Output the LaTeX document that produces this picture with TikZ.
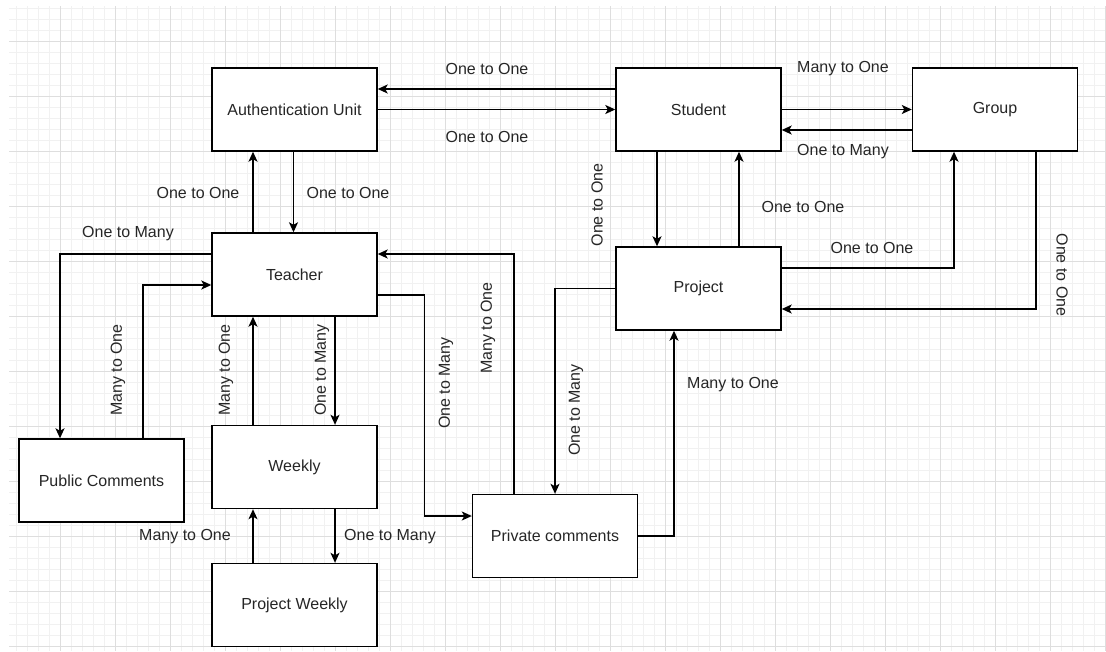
\documentclass[tikz,border=0pt]{standalone}
\usepackage{fontspec}
\setmainfont{Liberation Sans}
\usetikzlibrary{arrows.meta}
\definecolor{gridmajor}{HTML}{DEDEDE}
\definecolor{gridminor}{HTML}{F1F1F1}
\definecolor{txt}{HTML}{262626}
\tikzset{
  ent/.style={draw=black, fill=white, line width=1.4pt, minimum width=165pt, minimum height=83pt, inner sep=0pt, text=txt, font=\fontsize{16}{19}\selectfont},
  rel/.style={text=txt, inner sep=0pt, font=\fontsize{16}{19}\selectfont},
  conn/.style={draw=black, line width=1.5pt, -{Stealth[length=10pt,width=9pt,inset=2.5pt]}},
}
\begin{document}
\begin{tikzpicture}[x=1pt,y=-1pt]
\useasboundingbox (0,0) rectangle (1106,651);
\fill[white] (0,0) rectangle (1106,651);
% grid
\foreach \i in {0,...,99} {
  \pgfmathsetmacro{\gx}{16+11*\i}
  \ifdim \gx pt<1106pt \draw[gridminor, line width=0.8pt] (\gx,6) -- (\gx,651); \fi
}
\foreach \i in {0,...,58} {
  \pgfmathsetmacro{\gy}{8+11*\i}
  \ifdim \gy pt<651pt \draw[gridminor, line width=0.8pt] (9,\gy) -- (1106,\gy); \fi
}
\foreach \gx in {60,115,...,1105} { \draw[gridmajor, line width=1pt] (\gx,6) -- (\gx,651); }
\foreach \gy in {41,96,...,650} { \draw[gridmajor, line width=1pt] (9,\gy) -- (1106,\gy); }

% entities
\node[ent] (auth) at (294.5,109.5) {Authentication Unit};
\node[ent] (student) at (698.5,109.5) {Student};
\node[ent] (group) at (995,109.5) {Group};
\node[ent] (teacher) at (294.5,274.5) {Teacher};
\node[ent] (project) at (698.5,288.5) {Project};
\node[ent] (public) at (101.5,480.5) {Public Comments};
\node[ent] (weekly) at (294.5,467) {Weekly};
\node[ent] (pweekly) at (294.5,605) {Project Weekly};
\node[ent] (private) at (555,536) {Private comments};

% connectors
\draw[conn] ([yshift=20.5pt]student.west) -- ([yshift=20.5pt]auth.east);
\draw[conn] (auth.east) -- (student.west);
\draw[conn] (student.east) -- (group.west);
\draw[conn] ([yshift=-20.5pt]group.west) -- ([yshift=-20.5pt]student.east);
\draw[conn] ([xshift=-41.5pt]teacher.north) -- ([xshift=-41.5pt]auth.south);
\draw[conn] ([xshift=-1pt]auth.south) -- ([xshift=-1pt]teacher.north);
\draw[conn] ([xshift=-41.5pt]student.south) -- ([xshift=-41.5pt]project.north);
\draw[conn] ([xshift=40.5pt]project.north) -- ([xshift=40.5pt]student.south);
\draw[conn] ([yshift=20.5pt]project.east) -| ([xshift=-41pt]group.south);
\draw[conn] ([xshift=41pt]group.south) |- ([yshift=-20.5pt]project.east);
\draw[conn] ([yshift=20.5pt]teacher.west) -| ([xshift=-41.5pt]public.north);
\draw[conn] ([xshift=41.5pt]public.north) |- ([yshift=-10.5pt]teacher.west);
\draw[conn] ([xshift=-41.5pt]weekly.north) -- ([xshift=-41.5pt]teacher.south);
\draw[conn] ([xshift=40.5pt]teacher.south) -- ([xshift=40.5pt]weekly.north);
\draw[conn] ([xshift=-41.5pt]pweekly.north) -- ([xshift=-41.5pt]weekly.south);
\draw[conn] ([xshift=40.5pt]weekly.south) -- ([xshift=40.5pt]pweekly.north);
\draw[conn] ([yshift=-20.5pt]teacher.east) -- ++(47,0) |- ([yshift=20pt]private.west);
\draw[conn] ([xshift=-41pt]private.north) |- ([yshift=20.5pt]teacher.east);
\draw[conn] (project.west) -| (private.north);
\draw[conn] (private.east) -| ([xshift=-24.5pt]project.south);

% labels
\node[rel] (l1) at (487,69) {One to One};
\node[rel] (l2) at (487,137) {One to One};
\node[rel] (l3) at (843,69) {Many to One};
\node[rel] (l4) at (843,152) {One to Many};
\node[rel] (l5) at (198,193) {One to One};
\node[rel] (l6) at (348,193) {One to One};
\node[rel, rotate=90] (l7) at (597,205) {One to One};
\node[rel] (l8) at (803,207) {One to One};
\node[rel] (l9) at (872,248) {One to One};
\node[rel, rotate=-90] (l10) at (1062,275) {One to One};
\node[rel] (l11) at (128,234) {One to Many};
\node[rel, rotate=90] (l12) at (118,370) {Many to One};
\node[rel, rotate=90] (l13) at (226,370) {Many to One};
\node[rel, rotate=90] (l14) at (322,370) {One to Many};
\node[rel] (l15) at (185,537) {Many to One};
\node[rel] (l16) at (390,537) {One to Many};
\node[rel, rotate=90] (l17) at (446,383) {One to Many};
\node[rel, rotate=90] (l18) at (488,328) {Many to One};
\node[rel, rotate=90] (l19) at (576,410) {One to Many};
\node[rel] (l20) at (733,385) {Many to One};
\end{tikzpicture}
\end{document}
